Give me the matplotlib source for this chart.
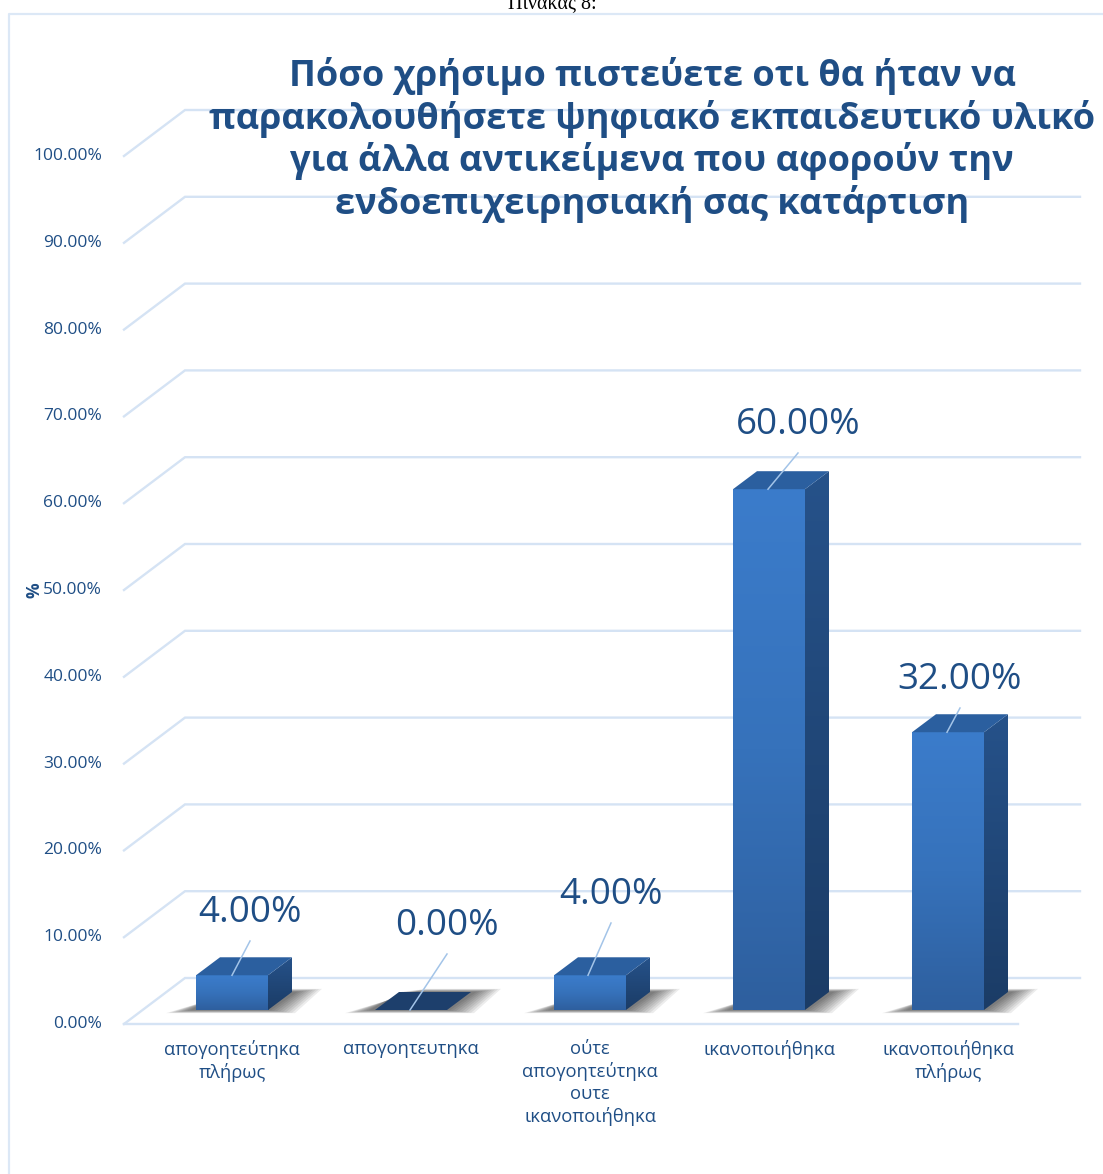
import matplotlib
matplotlib.use('Agg')
import matplotlib.pyplot as plt
import numpy as np
from matplotlib.colors import LinearSegmentedColormap
from matplotlib.patches import Polygon

categorias = ["απογοητεύτηκα\nπλήρως", "απογοητευτηκα",
              "ούτε\nαπογοητεύτηκα\nουτε\nικανοποιήθηκα",
              "ικανοποιήθηκα", "ικανοποιήθηκα\nπλήρως"]
valores = [4, 0, 4, 60, 32]
etiquetas = ["4.00%", "0.00%", "4.00%", "60.00%", "32.00%"]
ticks = [0, 10, 20, 30, 40, 50, 60, 70, 80, 90, 100]
titulo = ("Πόσο χρήσιμο πιστεύετε οτι θα ήταν να\n"
          "παρακολουθήσετε ψηφιακό εκπαιδευτικό υλικό\n"
          "για άλλα αντικείμενα που αφορούν την\n"
          "ενδοεπιχειρησιακή σας κατάρτιση")

W, H = 1103, 1174
PX_X = 179.0   # pixeles por categoria
PX_Y = 8.68    # pixeles por punto porcentual
X0, Y0 = 232, 1010


def px(dx):
    return dx / PX_X


def py(dy):
    return dy / PX_Y


def xdata(p):
    return (p - X0) / PX_X


def ydata(p):
    return (Y0 - p) / PX_Y


AZUL = "#1f4e85"
GRID = "#d5e3f4"
GUIA = "#a3c4e8"

fig = plt.figure(figsize=(W / 100, H / 100), dpi=100)
ax = fig.add_axes([0, 0, 1, 1])
ax.axis("off")
xlim = (xdata(0), xdata(W))
ylim = (ydata(H), ydata(0))

# marco del grafico
ax.plot([xdata(9), xdata(9), xdata(W)], [ydata(H), ydata(14), ydata(14)],
        color="#dce8f6", lw=1.6, zorder=1)
ax.text(xdata(552), ydata(8), "Πίνακας 8:", family="Liberation Serif", fontsize=14.5,
        color="black", ha="center", va="baseline")

# rejilla con suelo en perspectiva
for t in ticks:
    y_front = ydata(1024) + t
    y_back = y_front + py(46)
    x_izq, x_fondo = xdata(124), xdata(185)
    ax.plot([x_izq, x_fondo, xdata(1080)], [y_front, y_back, y_back],
            color=GRID, lw=1.7, zorder=1, solid_joinstyle="miter")
    ax.text(xdata(102), y_front, f"{t:.2f}%", color=AZUL, fontsize=12.5,
            family="Open Sans", ha="right", va="center", zorder=2)
ax.plot([xdata(124), xdata(1018)], [ydata(1024), ydata(1024)], color=GRID, lw=1.7, zorder=1)

ax.text(xdata(35), ydata(590), "%", color=AZUL, fontsize=12.5, family="Open Sans",
        fontweight="bold", rotation=90, ha="center", va="center", zorder=3)

cm_front = LinearSegmentedColormap.from_list("front", ["#3b7ccb", "#3672bb", "#2e5f9e"])
cm_side = LinearSegmentedColormap.from_list("side", ["#26528a", "#1b3c66"])
ancho = px(72)
dx3, dy3 = px(24), py(18)

for i, v in enumerate(valores):
    iz, de = i - ancho / 2, i + ancho / 2

    # sombra difusa sobre el suelo
    for k in range(9):
        e = 9 - k
        ax.add_patch(Polygon([(iz - px(3 + 3 * e), -py(e * 0.35)),
                              (de + px(3 * e), -py(e * 0.35)),
                              (de + dx3 + px(3 + 3 * e), dy3 + py(e * 0.35)),
                              (iz + dx3 + px(3 * e), dy3 + py(e * 0.35))],
                             closed=True, fc="black", ec="none", alpha=0.075, zorder=3))

    if v == 0:
        ax.add_patch(Polygon([(iz, 0), (de, 0), (de + dx3, dy3), (iz + dx3, dy3)],
                             closed=True, fc="#1d3f6c", ec="none", zorder=4))
    else:
        grad = np.linspace(0, 1, 256).reshape(-1, 1)
        ax.imshow(grad, extent=(iz, de, 0, v), origin="upper", cmap=cm_front, aspect="auto",
                  zorder=4, interpolation="bilinear",
                  vmin=0, vmax=1)
        lado = Polygon([(de, 0), (de + dx3, dy3), (de + dx3, v + dy3), (de, v)],
                       closed=True, fc="none", ec="none", zorder=4)
        ax.add_patch(lado)
        im = ax.imshow(grad, extent=(de, de + dx3, 0, v + dy3), origin="upper", cmap=cm_side,
                       aspect="auto", zorder=4, interpolation="bilinear", vmin=0, vmax=1)
        im.set_clip_path(lado)
        ax.add_patch(Polygon([(iz, v), (de, v), (de + dx3, v + dy3), (iz + dx3, v + dy3)],
                             closed=True, fc="#2b5f9f", ec="none", zorder=4))

    ax.text(i, ydata(1040), categorias[i], color=AZUL, fontsize=13.2, family="Open Sans",
            ha="center", va="top", linespacing=1.28, zorder=5)

# etiquetas de valor con linea guia (posicion de la etiqueta en pixeles)
pos_etq = [(250, 913), (447, 926), (611, 895), (798, 425), (960, 680)]
pos_guia = [(250, 941), (447, 954), (611, 923), (798, 453), (960, 708)]
base_guia = [232, 410, 588, 768, 947]
for i, v in enumerate(valores):
    ax.plot([xdata(base_guia[i]), xdata(pos_guia[i][0])], [v, ydata(pos_guia[i][1])],
            color=GUIA, lw=1.1, zorder=6)
    ax.text(xdata(pos_etq[i][0]), ydata(pos_etq[i][1]), etiquetas[i], color=AZUL,
            fontsize=26.5, family="Open Sans", ha="center", va="center", zorder=6)

ax.text(xdata(652), ydata(140), titulo, color=AZUL, fontsize=26, family="Open Sans",
        fontweight="bold", ha="center", va="center", linespacing=1.17, zorder=7)

ax.set_xlim(*xlim)
ax.set_ylim(*ylim)
fig.savefig("out.png", dpi=100)
plt.close(fig)
